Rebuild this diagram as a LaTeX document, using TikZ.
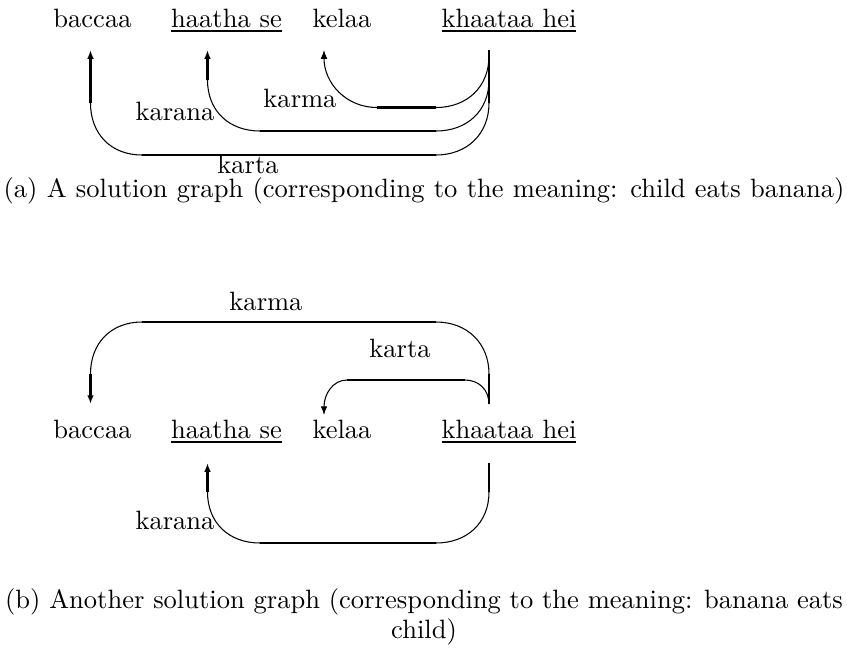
\documentclass[tikz,border=0pt]{standalone}
\usetikzlibrary{arrows.meta}
% underlined word with a slightly heavier rule
\newsavebox\uwbox
\newcommand\uword[1]{\sbox\uwbox{#1}\rlap{\rule[-2pt]{\wd\uwbox}{0.7pt}}\usebox\uwbox}
\begin{document}
\begin{tikzpicture}[x=0.377pt,y=-0.377pt,
  word/.style={anchor=base,inner sep=0pt},
  rel/.style={anchor=base,inner sep=0pt},
  heavy/.style={line width=0.85pt},
  light/.style={line width=0.4pt},
  tip/.style={-{Latex[length=3.3pt,width=2.5pt]}}]
\useasboundingbox (0,0) rectangle (847,654);

% ---------------- (a) ----------------
\node[word] (a1) at (92.5,27) {baccaa};
\node[word] (a2) at (226.5,27) {\uword{haatha se}};
\node[word] (a3) at (342,27) {kelaa};
\node[word] (a4) at (509,27) {\uword{khaataa hei}};

\coordinate (a-src) at (489,50);
\coordinate (a-to1) at (90.5,50);
\coordinate (a-to2) at (207.5,50);
\coordinate (a-to3) at (324,50);

% karta: khaataa hei -> baccaa
\draw[heavy] (a-src) -- (489,103);
\draw[light] (489,103) .. controls +(0,31) and +(31,0) .. (436,155);
\draw[heavy] (436,155) -- (142,155);
\draw[light] (142,155) .. controls +(-31,0) and +(0,31) .. (90.5,103);
\draw[heavy,tip] (90.5,103) -- (a-to1);

% karana: khaataa hei -> haatha se
\draw[heavy] (a-src) -- (489,80);
\draw[light] (489,80) .. controls +(0,31) and +(31,0) .. (436,131);
\draw[heavy] (436,131) -- (260,131);
\draw[light] (260,131) .. controls +(-31,0) and +(0,31) .. (207.5,80);
\draw[heavy,tip] (207.5,80) -- (a-to2);

% karma: khaataa hei -> kelaa
\draw[heavy] (a-src) -- (489,56);
\draw[light] (489,56) .. controls +(0,31) and +(31,0) .. (436,107.5);
\draw[heavy] (436,107.5) -- (377,107.5);
\draw[light,tip] (377,107.5) .. controls +(-31,0) and +(0,33) .. (a-to3);

\node[rel] (a-karma)  at (300,107) {karma};
\node[rel] (a-karana) at (175,120.5) {karana};
\node[rel] (a-karta)  at (248,173) {karta};
\node[rel] (a-cap) at (424,197)
  {\makebox[317pt][s]{(a) A solution graph (corresponding to the meaning: child eats banana)}};

% ---------------- (b) ----------------
\node[word] (b1) at (92.5,438) {baccaa};
\node[word] (b2) at (226.5,438) {\uword{haatha se}};
\node[word] (b3) at (342,438) {kelaa};
\node[word] (b4) at (509,438) {\uword{khaataa hei}};

\coordinate (b-src) at (489,404);
\coordinate (b-to1) at (90.5,404);
\coordinate (b-to3) at (324,415);
\coordinate (b-src2) at (489,463);
\coordinate (b-to2) at (207.5,463);

% karma: khaataa hei -> baccaa
\draw[heavy] (b-src) -- (489,374);
\draw[light] (489,374) .. controls +(0,-31) and +(31,0) .. (436,322);
\draw[heavy] (436,322) -- (142,322);
\draw[light] (142,322) .. controls +(-31,0) and +(0,-31) .. (90.5,374);
\draw[heavy,tip] (90.5,374) -- (b-to1);

% karta: khaataa hei -> kelaa
\draw[light] (b-src) .. controls +(0,-14) and +(14,0) .. (465,380);
\draw[heavy] (465,380) -- (347,380);
\draw[light,tip] (347,380) .. controls +(-14,0) and +(0,-21) .. (b-to3);

% karana: khaataa hei -> haatha se
\draw[heavy] (b-src2) -- (489,492);
\draw[light] (489,492) .. controls +(0,31) and +(31,0) .. (436,543);
\draw[heavy] (436,543) -- (260,543);
\draw[light] (260,543) .. controls +(-31,0) and +(0,31) .. (207.5,492);
\draw[heavy,tip] (207.5,492) -- (b-to2);

\node[rel] (b-karma)  at (266,310) {karma};
\node[rel] (b-karta)  at (400,357) {karta};
\node[rel] (b-karana) at (175,529) {karana};
\node[rel] (b-cap1) at (424,608)
  {(b) Another solution graph (corresponding to the meaning: banana eats};
\node[rel] (b-cap2) at (424,638) {child)};
\end{tikzpicture}
\end{document}
